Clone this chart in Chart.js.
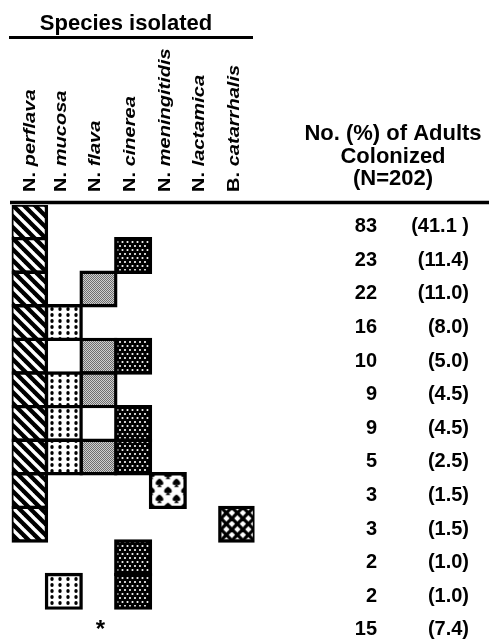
<!DOCTYPE html>
<html><head><meta charset="utf-8">
<script src="https://cdn.jsdelivr.net/npm/chart.js@4/dist/chart.umd.min.js"></script>
<style>html,body{margin:0;padding:0;background:#fff;}canvas{display:block;}</style>
</head><body>
<canvas id="c" width="489" height="639"></canvas>
<script>
// ---------- data ----------
const species = ['N. perflava','N. mucosa','N. flava','N. cinerea','N. meningitidis','N. lactamica','B. catarrhalis'];
// row indices (top to bottom) in which each species was isolated
const perflavaRows     = [0,1,2,3,4,5,6,7,8,9];
const mucosaRows       = [3,5,6,7,11];
const flavaRows        = [2,4,5,7];
const cinereaRows      = [1,4,6,7,10,11];
const meningitidisRows = [8];
const lactamicaRows    = [];
const catarrhalisRows  = [9];
const noneRows         = [12];   // "*" : no species isolated
const counts   = [83,23,22,16,10,9,9,5,3,3,2,2,15];
const percents = ['(41.1 )','(11.4)','(11.0)','(8.0)','(5.0)','(4.5)','(4.5)','(2.5)','(1.5)','(1.5)','(1.0)','(1.0)','(7.4)'];
const titleText = 'Species isolated';
const colHeader = ['No. (%) of Adults','Colonized','(N=202)'];

// ---------- patterns ----------
function tile(w,h,draw){const c=document.createElement('canvas');c.width=w;c.height=h;const g=c.getContext('2d');draw(g,w,h);return g.createPattern(c,'repeat');}
const pStripes = tile(11,11,(g,w,h)=>{g.fillStyle='#000';g.fillRect(0,0,w,h);g.strokeStyle='#fff';g.lineWidth=3.4;
  for(const k of [-w,0,w]){g.beginPath();g.moveTo(k-1,-1);g.lineTo(k+w+1,h+1);g.stroke();}});
const pDotsBlack = tile(8,6,(g,w,h)=>{g.fillStyle='#fff';g.fillRect(0,0,w,h);g.fillStyle='#000';g.beginPath();g.ellipse(4,3,1.7,2.1,0,0,Math.PI*2);g.fill();});
const pGray = tile(2,2,(g)=>{g.fillStyle='#cfcfcf';g.fillRect(0,0,2,2);g.fillStyle='#6e6e6e';g.fillRect(0,0,1,1);g.fillRect(1,1,1,1);});
const pDotsWhite = tile(10,8,(g,w,h)=>{g.fillStyle='#000';g.fillRect(0,0,w,h);g.fillStyle='#fff';
  for(const [x,y] of [[2.5,2],[7.5,2],[0,6],[5,6],[10,6]]){g.beginPath();g.arc(x,y,1.05,0,Math.PI*2);g.fill();}});
function spade(g,cx,cy,s){g.beginPath();g.moveTo(cx,cy-s);
  g.bezierCurveTo(cx+s*1.5,cy-s*0.1,cx+s*0.9,cy+s*0.9,cx,cy+s*0.35);
  g.bezierCurveTo(cx-s*0.9,cy+s*0.9,cx-s*1.5,cy-s*0.1,cx,cy-s);g.fill();
  g.beginPath();g.moveTo(cx,cy+s*0.2);g.lineTo(cx+s*0.55,cy+s*1.0);g.lineTo(cx-s*0.55,cy+s*1.0);g.closePath();g.fill();}
const pSpades = tile(17,16,(g,w,h)=>{g.fillStyle='#fff';g.fillRect(0,0,w,h);g.fillStyle='#000';
  for(const [x,y] of [[0,0],[w,0],[0,h],[w,h],[w/2,h/2]]) spade(g,x,y,4.2);});
const pLattice = tile(11,11,(g,w,h)=>{g.fillStyle='#fff';g.fillRect(0,0,w,h);g.strokeStyle='#000';g.lineWidth=3.3;
  for(const k of [-w,0,w]){g.beginPath();g.moveTo(k-1,-1);g.lineTo(k+w+1,h+1);g.stroke();g.beginPath();g.moveTo(k+w+1,-1);g.lineTo(k-1,h+1);g.stroke();}});
const patterns = [pStripes,pDotsBlack,pGray,pDotsWhite,pSpades,'#fff',pLattice];

const rowSets = [perflavaRows,mucosaRows,flavaRows,cinereaRows,meningitidisRows,lactamicaRows,catarrhalisRows];
const datasets = species.map((s,i)=>({
  label:s,
  data: rowSets[i].map(r=>({x:s,y:[r,r+1]})),
  backgroundColor:patterns[i], borderColor:'#000', borderWidth:3.4, borderSkipped:false,
  inflateAmount:1.7, grouped:false, barPercentage:1, categoryPercentage:1
}));

const FONT = '"Liberation Sans", Arial, Helvetica, sans-serif';

// align the single-cell patterns with their cells (positions taken from the library's elements)
const alignPlugin = {
  id:'align',
  beforeDatasetsDraw(chart){
    const m1 = chart.getDatasetMeta(4).data[0];
    if(m1 && pSpades.setTransform){
      const x0 = m1.x - m1.width/2, y0 = Math.min(m1.y,m1.base);
      pSpades.setTransform(new DOMMatrix().translate(x0+9, y0+9));
    }
    const m2 = chart.getDatasetMeta(6).data[0];
    if(m2 && pLattice.setTransform){
      const x0 = m2.x - m2.width/2, y0 = Math.min(m2.y,m2.base);
      pLattice.setTransform(new DOMMatrix().translate(x0+1, y0));
    }
  }
};

const textPlugin = {
  id:'texts',
  afterDatasetsDraw(chart){
    const ctx = chart.ctx, xs = chart.scales.x, ys = chart.scales.y;
    ctx.save();
    ctx.fillStyle='#000';ctx.strokeStyle='#000';
    // title + underline
    ctx.font = 'bold 22px '+FONT; ctx.textAlign='center'; ctx.textBaseline='alphabetic';
    ctx.fillText(titleText, 126, 30);
    ctx.lineWidth=3; ctx.beginPath(); ctx.moveTo(9,37.5); ctx.lineTo(253,37.5); ctx.stroke();
    // heavy rule above the grid
    ctx.lineWidth=3.5; ctx.beginPath(); ctx.moveTo(10,202.5); ctx.lineTo(489,202.5); ctx.stroke();
    // rotated species labels
    species.forEach((s,i)=>{
      const x = xs.getPixelForValue(i)+(i===0?6:2);
      const sp = s.indexOf(' ');
      const pre = s.slice(0,sp+1), name = s.slice(sp+1);
      ctx.save(); ctx.translate(x,192); ctx.rotate(-Math.PI/2); ctx.scale(1.18,1);
      ctx.textAlign='left'; ctx.textBaseline='alphabetic';
      ctx.font='bold 17px '+FONT; ctx.fillText(pre,0,0);
      const w = ctx.measureText(pre).width;
      ctx.font='italic bold 17px '+FONT; ctx.fillText(name,w,0);
      ctx.restore();
    });
    // right column header
    ctx.font='bold 22px '+FONT; ctx.textAlign='center';
    colHeader.forEach((t,k)=>ctx.fillText(t,393,140+k*22.5));
    // counts and percents
    ctx.font='bold 20px '+FONT; ctx.textAlign='right';
    counts.forEach((c,r)=>{
      const y = ys.getPixelForValue(r+0.5)+10.5;
      ctx.fillText(String(c),377,y);
      ctx.fillText(percents[r],469,y);
    });
    // star for "no species"
    ctx.font='bold 24px '+FONT; ctx.textAlign='center'; ctx.textBaseline='middle';
    noneRows.forEach(r=>{ctx.fillText('*', xs.getPixelForValue(2)+2, ys.getPixelForValue(r+0.5)+5);});
    ctx.restore();
  }
};

new Chart(document.getElementById('c'),{
  type:'bar',
  data:{labels:species,datasets},
  options:{
    responsive:false, animation:false, events:[],
    layout:{padding:{top:205,bottom:0.6,left:11.8,right:234.5}},
    plugins:{legend:{display:false},tooltip:{enabled:false},title:{display:false}},
    scales:{
      x:{type:'category',display:false,offset:true,grid:{display:false}},
      y:{type:'linear',display:false,reverse:true,min:0,max:12.9,grid:{display:false}}
    }
  },
  plugins:[alignPlugin,textPlugin]
});
</script>
</body></html>
